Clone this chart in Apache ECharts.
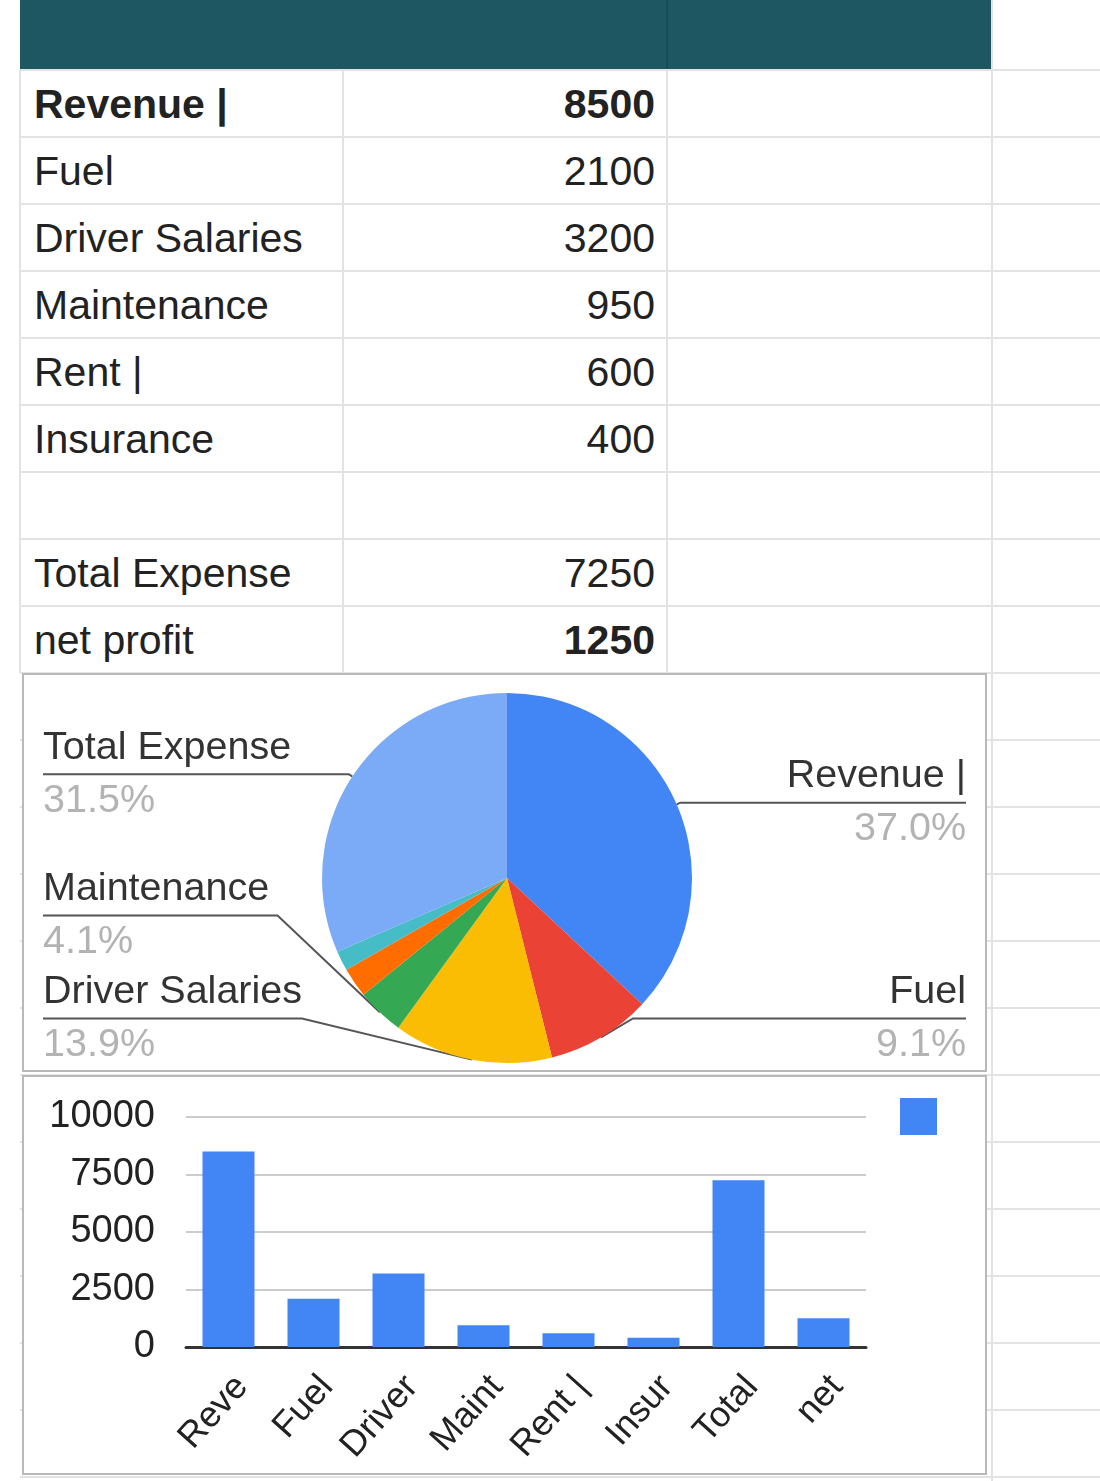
<!DOCTYPE html>
<html>
<head>
<meta charset="utf-8">
<script src="https://cdn.jsdelivr.net/npm/echarts@6/dist/echarts.min.js"></script>
<style>
  html, body { margin: 0; padding: 0; background: #fff; }
  body { width: 1100px; height: 1481px; overflow: hidden; position: relative; font-family: "Liberation Sans", Arial, sans-serif; }
  .hdr { position: absolute; left: 20px; top: 0; width: 972px; height: 70px; background: #1e5661; }
  .hdrdiv { position: absolute; top: 0; width: 2px; height: 70px; background: #1a4b55; }
  .hl { position: absolute; height: 2px; background: #e3e3e3; }
  .vl { position: absolute; width: 2px; background: #e3e3e3; }
  .cell { position: absolute; height: 67px; line-height: 67px; font-size: 41px; color: #222; white-space: nowrap; }
  .box { position: absolute; left: 22px; width: 961px; background: #fff; border: 2px solid #b9b9b9; }
  .chart { width: 961px; height: 100%; }
</style>
</head>
<body>
<div class="hdr"><div class="hdrdiv" style="left:646px"></div></div>
<div id="grid"></div>
<div class="box" id="pieBox" style="top:673px;height:395px;"><div class="chart" id="pie"></div></div>
<div class="box" id="barBox" style="top:1075px;height:396px;"><div class="chart" id="bar"></div></div>
<script>
// ---- data ----
const rowLabels = ['Revenue |', 'Fuel', 'Driver Salaries', 'Maintenance', 'Rent |', 'Insurance', '', 'Total Expense', 'net profit'];
const rowValues = [8500, 2100, 3200, 950, 600, 400, null, 7250, 1250];
const boldLabelRows = [0];
const boldValueRows = [0, 8];

const pieNames = ['Revenue |', 'Fuel', 'Driver Salaries', 'Maintenance', 'Rent |', 'Insurance', 'Total Expense'];
const pieValues = [8500, 2100, 3200, 950, 600, 400, 7250];
const pieHiddenLabels = ['Rent |', 'Insurance'];

const barLabels = ['Reve', 'Fuel', 'Driver', 'Maint', 'Rent |', 'Insur', 'Total', 'net'];
const barValues = [8500, 2100, 3200, 950, 600, 400, 7250, 1250];
const yTicks = [0, 2500, 5000, 7500, 10000];

const palette = ['#4285f4', '#ea4335', '#fbbc04', '#34a853', '#ff6d01', '#46bdc6', '#7baaf7'];
const FONT = '"Liberation Sans", Arial, sans-serif';

// ---- spreadsheet grid ----
const grid = document.getElementById('grid');
const HEADER = 70, ROWH = 67, NROWS = 21;
function add(cls, style, text) {
  const d = document.createElement('div');
  d.className = cls;
  Object.assign(d.style, style);
  if (text !== undefined) d.textContent = text;
  grid.appendChild(d);
  return d;
}
for (let i = 0; i <= NROWS; i++) {
  const y = HEADER + ROWH * i;
  add('hl', { left: '20px', top: (y - 1) + 'px', width: '1080px' });
}
add('vl', { left: '19px', top: HEADER + 'px', height: (ROWH * 9) + 'px' });
add('vl', { left: '342px', top: HEADER + 'px', height: (ROWH * 9) + 'px' });
add('vl', { left: '666px', top: HEADER + 'px', height: (ROWH * 9) + 'px' });
add('vl', { left: '991px', top: '0px', height: '1481px' });
rowLabels.forEach((lab, i) => {
  const top = HEADER + ROWH * i + 1;
  const l = add('cell', { left: '34px', top: top + 'px' }, lab);
  if (boldLabelRows.includes(i)) l.style.fontWeight = 'bold';
  if (rowValues[i] !== null) {
    const v = add('cell', { left: '343px', width: '312px', top: top + 'px', textAlign: 'right' }, String(rowValues[i]));
    if (boldValueRows.includes(i)) v.style.fontWeight = 'bold';
  }
});

// ---- pie chart ----
const pieChart = echarts.init(document.getElementById('pie'), null, { renderer: 'canvas' });
const pieData = pieNames.map((n, i) => {
  const item = { name: n, value: pieValues[i], itemStyle: { color: palette[i] } };
  if (pieHiddenLabels.includes(n)) {
    item.label = { show: false };
    item.labelLine = { show: false };
  }
  return item;
});
const pieW = 961;
pieChart.setOption({
  animation: false,
  textStyle: { fontFamily: FONT },
  series: [{
    type: 'pie',
    center: [483, 203],
    radius: 185,
    startAngle: 90,
    clockwise: true,
    data: pieData,
    avoidLabelOverlap: true,
    emphasis: { disabled: true },
    label: {
      show: true,
      alignTo: 'edge',
      edgeDistance: 19,
      minMargin: 10,
      distanceToLabelLine: 0,
      formatter: p => '{n|' + p.name + '}\n{p|' + p.percent.toFixed(1) + '%}',
      rich: {
        n: { fontSize: 39.5, color: '#333333', lineHeight: 53, fontFamily: FONT },
        p: { fontSize: 39.5, color: '#b3b3b3', lineHeight: 53, fontFamily: FONT }
      }
    },
    labelLine: {
      show: true,
      length: 4,
      length2: 10,
      smooth: false,
      lineStyle: { color: '#555555', width: 2 }
    },
    labelLayout: function (params) {
      const points = params.labelLinePoints;
      if (!points) return {};
      const isLeft = params.labelRect.x < pieW / 2;
      points[2][0] = isLeft ? params.labelRect.x : params.labelRect.x + params.labelRect.width;
      return { labelLinePoints: points };
    }
  }]
});

// ---- bar chart ----
const barChart = echarts.init(document.getElementById('bar'), null, { renderer: 'canvas' });
const seriesName = 'Value';
barChart.setOption({
  animation: false,
  textStyle: { fontFamily: FONT },
  legend: {
    data: [seriesName],
    left: 871,
    top: 16,
    icon: 'rect',
    itemWidth: 37,
    itemHeight: 37,
    formatter: () => '',
    selectedMode: false
  },
  grid: { left: 162, top: 40, width: 680, height: 230 },
  xAxis: {
    type: 'category',
    data: barLabels,
    axisLine: { lineStyle: { color: '#333333', width: 3 } },
    axisTick: { show: false },
    axisLabel: { interval: 0, rotate: 48, fontSize: 36, color: '#222222', margin: 22, verticalAlign: 'top', fontFamily: FONT }
  },
  yAxis: {
    type: 'value',
    min: yTicks[0],
    max: yTicks[yTicks.length - 1],
    interval: yTicks[1] - yTicks[0],
    axisLine: { show: false },
    axisTick: { show: false },
    splitLine: { lineStyle: { color: '#cccccc', width: 2 } },
    axisLabel: { fontSize: 38, color: '#222222', margin: 31, fontFamily: FONT, formatter: v => String(v) }
  },
  series: [{
    name: seriesName,
    type: 'bar',
    data: barValues,
    barWidth: 52,
    itemStyle: { color: palette[0] },
    emphasis: { disabled: true }
  }]
});
</script>
</body>
</html>
